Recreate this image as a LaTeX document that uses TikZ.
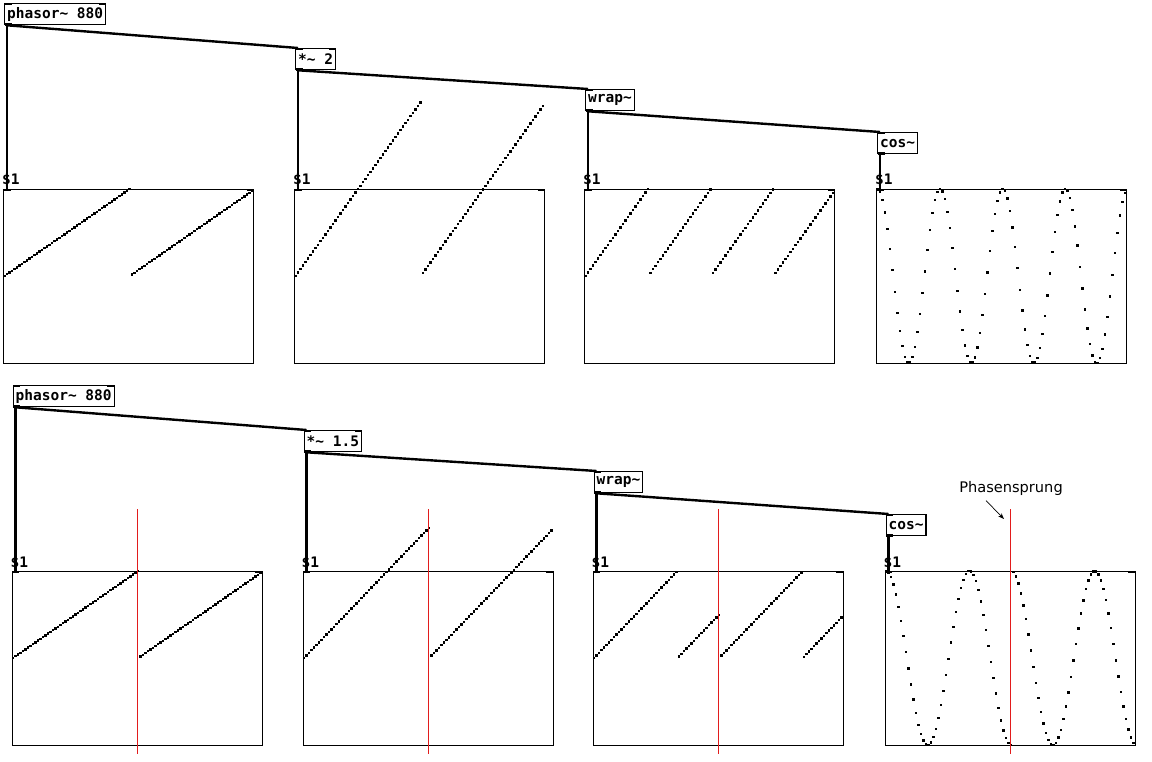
\documentclass[tikz,border=0pt]{standalone}
\usepackage{fontspec}
\setmainfont{DejaVu Sans}
\newfontfamily\pdfont{DejaVu Sans Mono}
\usepackage{tikz}
\usetikzlibrary{arrows.meta, positioning, calc}
\definecolor{jumpred}{RGB}{226,28,28}

\begin{document}
\begin{tikzpicture}[x=1pt, y=-1pt, >=Stealth,
  pdbox/.style={draw, line width=1.3pt, anchor=north west, inner sep=0pt, inner xsep=2.5pt,
    minimum height=21pt, font=\pdfont\bfseries\fontsize{14.5}{15}\selectfont},
  pdgraph/.style={draw, line width=1.4pt, anchor=north west, inner sep=0pt,
    minimum width=250pt, minimum height=174pt},
  pdlabel/.style={anchor=base west, inner sep=0pt, font=\pdfont\bfseries\fontsize{14.5}{15}\selectfont},
  sig/.style={line width=2.4pt},
  nub/.style={line width=2.5pt},
  jump/.style={jumpred, line width=1.5pt}]
  \useasboundingbox (0,0) rectangle (1152,762);
  % two patches: *~ 2 above, *~ 1.5 below
  \foreach \r/\dx/\dy/\k in {a/0/0/2, b/8.5/382/1.5} {
    % objects
    \node[pdbox] (phasor\r) at (4+\dx,3+\dy) {phasor\textasciitilde{} 880};
    \node[pdbox] (mul\r) at (295+\dx,48+\dy) {*\textasciitilde{} \k};
    \node[pdbox] (wrap\r) at (585+\dx,89+\dy) {wrap\textasciitilde};
    \node[pdbox] (cos\r) at (877+\dx,132+\dy) {cos\textasciitilde};
    \foreach \o in {phasor, mul, wrap, cos} {
      \draw[nub] ($(\o\r.north west)+(0.5,1)$) -- ++(7,0);
      \draw[nub] ($(\o\r.south west)+(0.5,-1)$) -- ++(7,0);
    }
    \draw[nub] ($(phasor\r.north east)+(-0.5,1)$) -- ++(-7,0);
    \draw[nub] ($(mul\r.north east)+(-0.5,1)$) -- ++(-7,0);
    % graphs
    \foreach \g/\gx in {1/3, 2/294, 3/584, 4/876} {
      \node[pdgraph] (gph\g\r) at (\gx+\dx,189+\dy) {};
      \node[pdlabel] (lbl\g\r) at ($(gph\g\r.north west)+(-1,-4)$) {\$1};
      \draw[nub] ($(gph\g\r.north west)+(0.5,1)$) -- ++(7,0);
      \draw[nub] ($(gph\g\r.north east)+(-0.5,1)$) -- ++(-7,0);
    }
    % signal connections
    \draw[sig] ($(phasor\r.south west)+(3,0)$) -- ($(mul\r.north west)+(3,0)$);
    \draw[sig] ($(mul\r.south west)+(3,0)$) -- ($(wrap\r.north west)+(3,0)$);
    \draw[sig] ($(wrap\r.south west)+(3,0)$) -- ($(cos\r.north west)+(3,0)$);
    \draw[sig] ($(phasor\r.south west)+(3,0)$) -- ($(gph1\r.north west)+(4,0)$);
    \draw[sig] ($(mul\r.south west)+(3,0)$) -- ($(gph2\r.north west)+(4,0)$);
    \draw[sig] ($(wrap\r.south west)+(3,0)$) -- ($(gph3\r.north west)+(4,0)$);
    \draw[sig] ($(cos\r.south west)+(3,0)$) -- ($(gph4\r.north west)+(4,0)$);
    % 100 samples per graph
    \foreach \n in {0,...,99} {
      \pgfmathsetmacro{\ph}{\n*0.0199546-floor(\n*0.0199546)}
      \pgfmathsetmacro{\sa}{\k*\ph}
      \pgfmathsetmacro{\sw}{\sa-floor(\sa)}
      \pgfmathsetmacro{\sc}{cos(360*\sw)}
      \foreach \g/\val in {1/\ph, 2/\sa, 3/\sw, 4/\sc}
        \fill ($(gph\g\r.north west)+(2.5*\n+0.2,85.8-87*\val)$) rectangle ++(2.4,2.4);
    }
  }
  % phase jumps
  \foreach \g in {1,...,4}
    \draw[jump] ($(gph\g b.north west)+(126,-62)$) -- ($(gph\g b.south west)+(126,8)$);
  \node[font=\fontsize{14.6}{16}\selectfont] (sprung) at (1011,488) {Phasensprung};
  \coordinate (sprungtip) at (1004,519);
  \draw[->, line width=0.7pt, >={Stealth[length=6pt, width=4.5pt]}] ($(sprung.south)+(-25,2)$) -- (sprungtip);
\end{tikzpicture}
\end{document}
